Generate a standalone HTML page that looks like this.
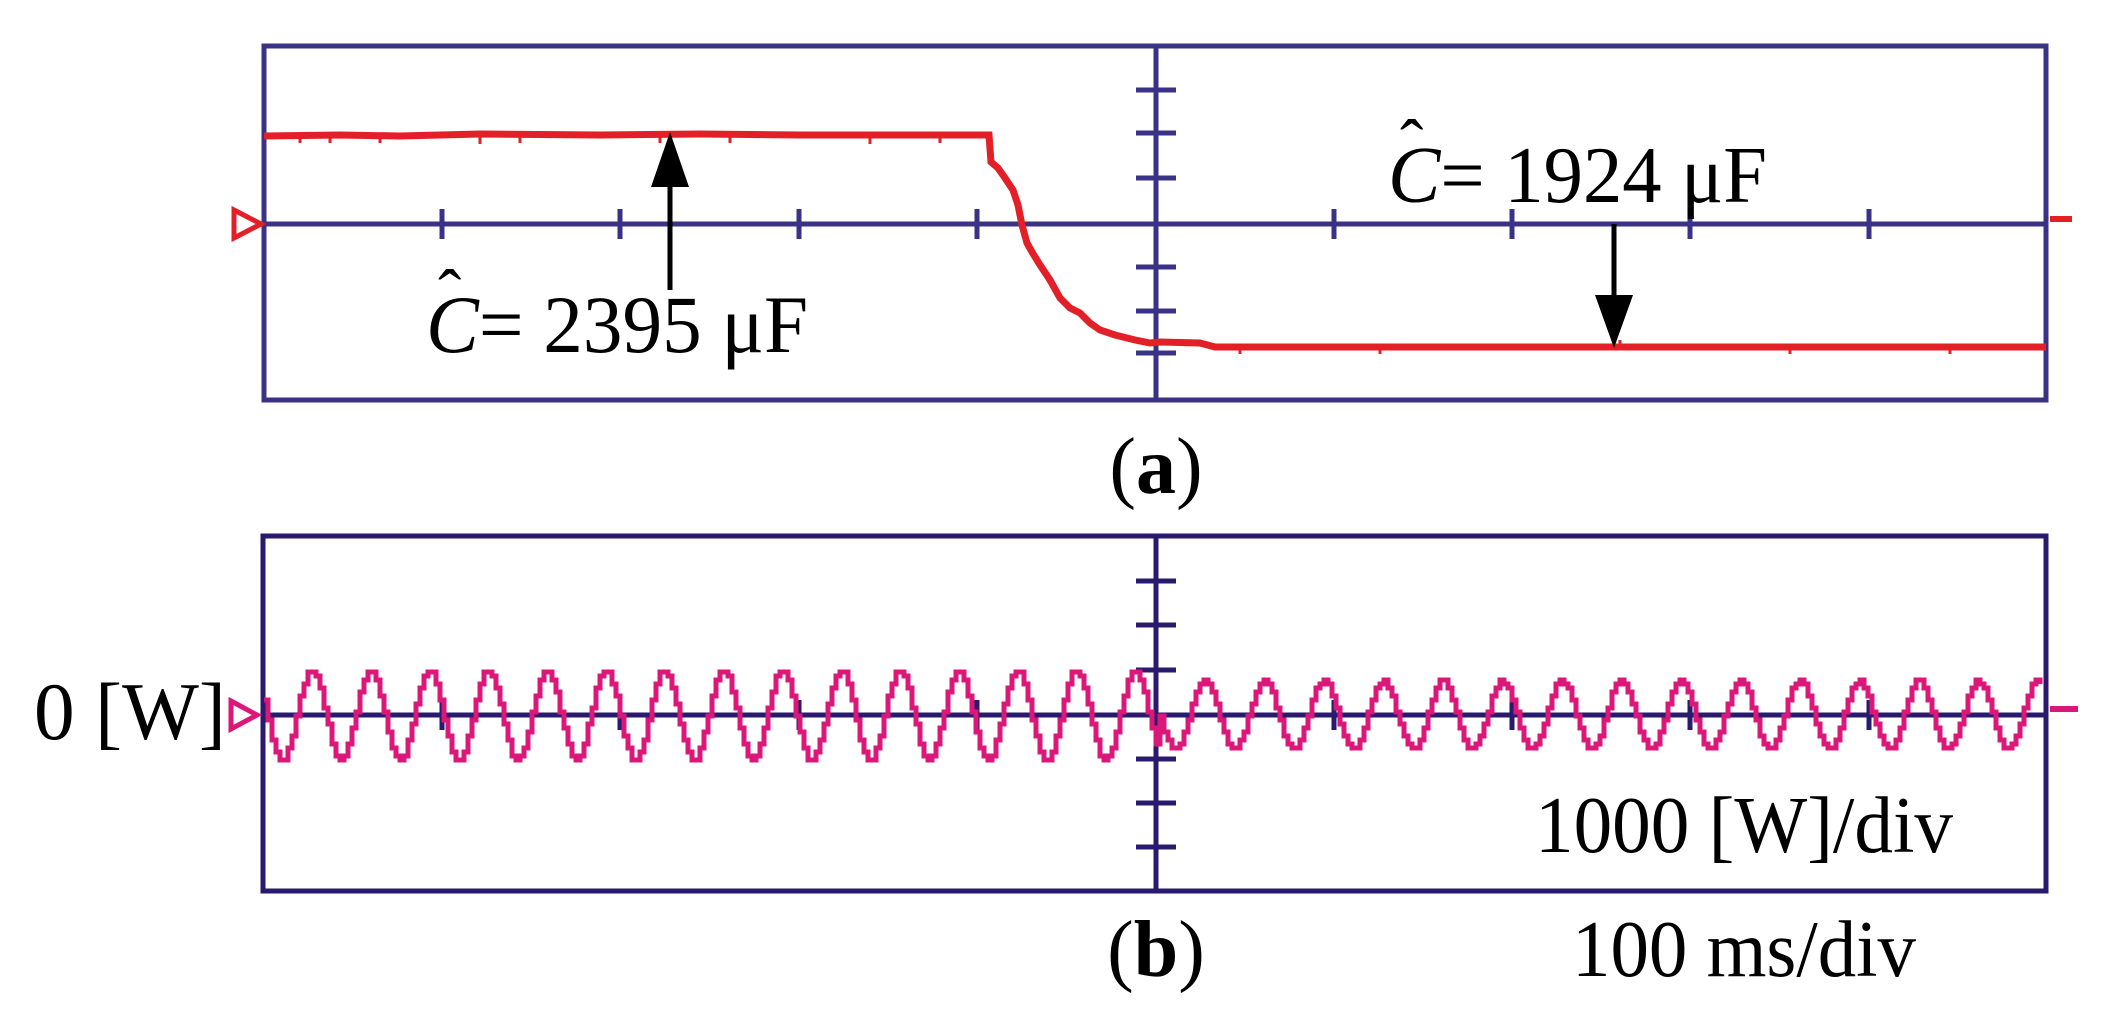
<!DOCTYPE html>
<html><head><meta charset="utf-8"><style>
html,body{margin:0;padding:0;background:#fff;width:2113px;height:1033px;overflow:hidden}
text{font-family:"Liberation Serif",serif;fill:#000}
</style></head><body>
<svg id="s" width="2113" height="1033" viewBox="0 0 2113 1033" xmlns="http://www.w3.org/2000/svg">
<g stroke="#3a3286" stroke-width="5" fill="none">
<rect x="264" y="46" width="1782" height="354"/>
<line x1="264" y1="224" x2="2046" y2="224"/>
<line x1="1156" y1="46" x2="1156" y2="400"/>
<path d="M442 209V239M620 209V239M799 209V239M977 209V239M1334 209V239M1512 209V239M1690 209V239M1869 209V239"/>
<path d="M1136 90H1176M1136 133H1176M1136 178H1176M1136 267H1176M1136 311H1176M1136 353H1176"/>
</g>
<g stroke="#2a1a6e" stroke-width="5" fill="none">
<rect x="263" y="536" width="1783" height="355"/>
<line x1="263" y1="715" x2="2046" y2="715"/>
<line x1="1156" y1="536" x2="1156" y2="891"/>
<path d="M442 700V730M620 700V730M799 700V730M977 700V730M1334 700V730M1512 700V730M1690 700V730M1869 700V730"/>
<path d="M1136 581H1176M1136 625H1176M1136 670H1176M1136 759H1176M1136 803H1176M1136 847H1176"/>
</g>
<!-- red trace -->
<polyline fill="none" stroke="#e32028" stroke-width="7" points="264,136 340,135 400,136 480,134 600,135 700,134 800,135 900,135 989,135 991,162 998,168 1005,178 1013,190 1018,205 1022,225 1027,243 1032,252 1040,265 1050,280 1060,298 1070,308 1080,313 1090,323 1100,330 1115,335 1135,340 1150,343 1160,342 1200,343 1215,347 1400,347 1600,347 1800,347 2046,347"/>
<g stroke="#e32028" stroke-width="3">
<path d="M300 136v7M330 136v7M380 136v7M480 136v8M520 136v7M660 136v7M730 136v7M870 136v8M940 136v7M1240 347v7M1380 347v7M1620 347v-7M1790 347v7M1950 347v7"/>
</g>
<polygon points="234,210 261,224 234,238" fill="none" stroke="#e32028" stroke-width="5"/>
<line x1="2050" y1="219" x2="2072" y2="219" stroke="#e32028" stroke-width="6"/>
<!-- pink trace -->
<path id="sine" fill="none" stroke="#dc177a" stroke-width="5" d=""/>
<polygon points="231,701 257,715 231,729" fill="none" stroke="#dc177a" stroke-width="5"/>
<line x1="2050" y1="709" x2="2078" y2="709" stroke="#dc177a" stroke-width="6"/>
<!-- arrows -->
<line x1="670" y1="290" x2="670" y2="185" stroke="#000" stroke-width="5"/>
<polygon points="670,132 651,187 689,187" fill="#000"/>
<line x1="1614" y1="224" x2="1614" y2="297" stroke="#000" stroke-width="5"/>
<polygon points="1614,348 1595,295 1633,295" fill="#000"/>
<!-- labels -->
<text x="426" y="352" font-size="82" textLength="382" lengthAdjust="spacingAndGlyphs"><tspan font-style="italic">C</tspan>= 2395 μF</text>
<text x="438" y="318" font-size="70">ˆ</text>
<text x="1388" y="202" font-size="80" textLength="379" lengthAdjust="spacingAndGlyphs"><tspan font-style="italic">C</tspan>= 1924 μF</text>
<text x="1400" y="168" font-size="70">ˆ</text>
<text x="1156" y="493" font-size="80" text-anchor="middle">(<tspan font-weight="bold">a</tspan>)</text>
<text x="1156" y="976" font-size="80" text-anchor="middle">(<tspan font-weight="bold">b</tspan>)</text>
<text x="34" y="739" font-size="82" textLength="192" lengthAdjust="spacingAndGlyphs">0 [W]</text>
<text x="1535" y="852" font-size="80" textLength="418" lengthAdjust="spacingAndGlyphs">1000 [W]/div</text>
<text x="1572" y="976" font-size="80" textLength="344" lengthAdjust="spacingAndGlyphs">100 ms/div</text>
</svg>
<script>
(function(){
var d="";
function seg(x0,x1,peak,per,amp,first){
 for(var x=x0;x<=x1;x+=4){
  var y=715-amp*Math.cos(2*Math.PI*(x-peak)/per);
  y=Math.round(y/4)*4;
  if(first&&x===x0){d+="M"+x+" "+y+" ";}
  else{d+="H"+x+" V"+y+" ";}
 }
}
seg(264,1156,311,58.8,45,true);
seg(1160,2040,1561,59.5,34,false);
document.getElementById("sine").setAttribute("d",d);
})();
</script>
</body></html>
